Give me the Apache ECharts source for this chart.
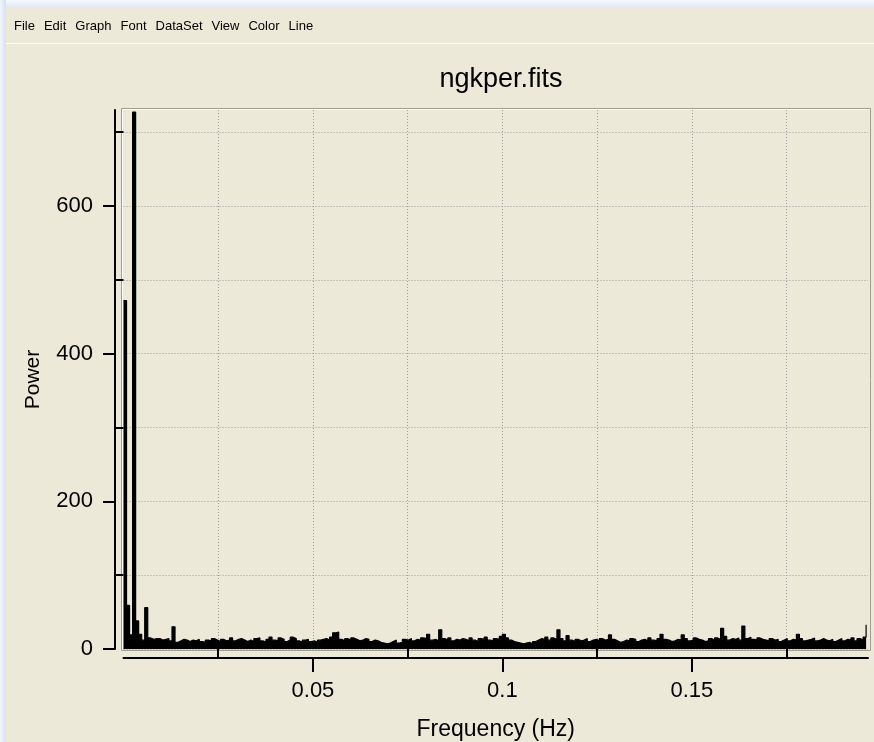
<!DOCTYPE html>
<html>
<head>
<meta charset="utf-8">
<script src="https://cdn.jsdelivr.net/npm/echarts@6/dist/echarts.min.js"></script>
<style>
html,body{margin:0;padding:0;background:#ECE9D8;overflow:hidden;}
#wrap{position:relative;width:874px;height:742px;}
#c{position:absolute;left:0;top:0;width:874px;height:742px;}
#topband{position:absolute;left:0;top:0;width:874px;height:8px;background:linear-gradient(#f6f8fc,#dfe7f5);}
#leftband{position:absolute;left:0;top:0;width:6px;height:742px;background:linear-gradient(90deg,#f3f6fb,#d5e0f3);}
#menu{position:absolute;left:6px;top:9px;width:868px;height:34px;border-bottom:1px solid #ffffff;
  font-family:"Liberation Sans",Arial,sans-serif;font-size:13px;color:#000;line-height:34px;white-space:nowrap;}
#menu span{display:inline-block;margin-left:8px;margin-right:1px;}
</style>
</head>
<body>
<div id="wrap">
<div id="c"></div>
<div id="topband"></div>
<div id="leftband"></div>
<div id="menu"></div>
</div>
<script>
// ---------------- data ----------------
const menuItems = ['File', 'Edit', 'Graph', 'Font', 'DataSet', 'View', 'Color', 'Line'];
const chartTitle = 'ngkper.fits';
const xName = 'Frequency (Hz)';
const yName = 'Power';

// frequency grid of the periodogram (Hz): bin i starts at F0 + i*DF
const F0 = 0;
const DF = 0.0008;
const XMAX = 0.1965;

// power per frequency bin
const power = [
  472, 59, 19, 727, 38, 20, 12, 56, 15, 13,
  14, 14, 12, 13, 14, 11, 30, 9, 11, 13,
  12, 10, 12, 11, 13, 10, 9, 12, 11, 14,
  12, 10, 13, 11, 12, 15, 11, 13, 14, 12,
  10, 12, 10, 14, 15, 11, 9, 13, 16, 12,
  11, 15, 13, 10, 12, 16, 14, 11, 9, 12,
  13, 10, 11, 9, 12, 13, 14, 12, 16, 22,
  23, 13, 11, 14, 12, 15, 13, 11, 12, 14,
  13, 10, 12, 11, 9, 8, 7, 8, 10, 12,
  8, 9, 13, 12, 14, 11, 13, 12, 15, 14,
  20, 12, 13, 11, 26, 14, 12, 15, 11, 13,
  12, 14, 13, 11, 15, 12, 10, 14, 13, 16,
  12, 11, 14, 13, 17, 20, 15, 12, 10, 9,
  8, 7, 8, 9, 7, 10, 12, 14, 13, 16,
  12, 15, 13, 26, 14, 11, 18, 12, 10, 13,
  11, 12, 14, 10, 12, 13, 11, 14, 12, 13,
  19, 13, 11, 9, 10, 12, 11, 14, 13, 10,
  12, 13, 11, 15, 12, 11, 14, 20, 13, 12,
  10, 11, 13, 12, 19, 14, 11, 12, 15, 13,
  12, 10, 11, 14, 12, 15, 13, 28, 17, 12,
  14, 13, 15, 12, 31, 14, 16, 13, 12, 15,
  13, 12, 11, 14, 12, 13, 10, 12, 14, 11,
  13, 12, 20, 14, 11, 12, 13, 15, 11, 12,
  14, 12, 11, 13, 10, 12, 14, 11, 13, 12,
  15, 11, 14, 12, 16, 33
];

const xMajor = [0.05, 0.1, 0.15];
const xTickLabels = ['0.05', '0.1', '0.15'];
const xMinor = [0.025, 0.075, 0.125, 0.175];
const yMajor = [0, 200, 400, 600];
const yTickLabels = ['0', '200', '400', '600'];
const yMinor = [100, 300, 500, 700];
const YMAX = 730;

// ---------------- menu ----------------
document.getElementById('menu').innerHTML = menuItems.map(m => '<span>' + m + '</span>').join('');

// ---------------- chart ----------------
const FONT = '"Liberation Sans", Arial, sans-serif';
const dotted = { show: true, lineStyle: { color: '#9C9C9C', width: 1, type: [1, 2] } };
const seriesData = power.map((p, i) => [+(F0 + i * DF).toFixed(5), p]);

const chart = echarts.init(document.getElementById('c'), null, { renderer: 'canvas' });
const GL = 123.5, GT = 110, GR = 6, GB = 93;

chart.setOption({
  backgroundColor: 'transparent',
  animation: false,
  title: {
    text: chartTitle, left: 496, top: 61, textAlign: 'center',
    textStyle: { fontFamily: FONT, fontSize: 27, fontWeight: 'normal', color: '#000' }
  },
  grid: { left: GL, right: GR, top: GT, bottom: GB, containLabel: false, outerBoundsMode: 'none' },
  graphic: [
    { type: 'rect', silent: true, z: -10,
      shape: { x: 121.5, y: 108.5, width: 749, height: 542 },
      style: { fill: '#ECE9D8', stroke: '#A19E8E', lineWidth: 1 } },
    { type: 'polyline', silent: true, z: -9,
      shape: { points: [[122.5, 650], [122.5, 109.5], [870, 109.5]] },
      style: { stroke: '#ffffff', lineWidth: 1, fill: null } }
  ],
  xAxis: [
    {
      type: 'value', min: 0, max: XMAX, position: 'bottom', offset: 9,
      axisLine: { show: true, onZero: false, lineStyle: { color: '#000', width: 2 } },
      axisTick: { show: true, customValues: xMajor, length: 14, lineStyle: { color: '#000', width: 2 } },
      axisLabel: {
        customValues: xMajor, margin: 22, fontFamily: FONT, fontSize: 22, color: '#000',
        formatter: v => { const i = xMajor.findIndex(t => Math.abs(t - v) < 1e-9); return i >= 0 ? xTickLabels[i] : ''; }
      },
      splitLine: dotted,
      name: xName, nameLocation: 'middle', nameGap: 60, nameMoveOverlap: false,
      nameTextStyle: { fontFamily: FONT, fontSize: 23, color: '#000' }
    },
    {
      type: 'value', min: 0, max: XMAX, position: 'bottom', offset: 9,
      axisLine: { show: false },
      axisTick: { show: true, customValues: xMinor, length: 8, lineStyle: { color: '#000', width: 2 } },
      axisLabel: { show: false },
      splitLine: dotted
    }
  ],
  yAxis: [
    {
      type: 'value', min: 0, max: YMAX, position: 'left', offset: 8.5,
      axisLine: { show: true, onZero: false, lineStyle: { color: '#000', width: 2 } },
      axisTick: { show: true, customValues: yMajor, length: 12, lineStyle: { color: '#000', width: 2 } },
      axisLabel: {
        customValues: yMajor, margin: 22, fontFamily: FONT, fontSize: 22, color: '#000',
        formatter: v => { const i = yMajor.findIndex(t => Math.abs(t - v) < 1e-9); return i >= 0 ? yTickLabels[i] : ''; }
      },
      splitLine: dotted,
      name: yName, nameLocation: 'middle', nameGap: 71, nameRotate: 90, nameMoveOverlap: false,
      nameTextStyle: { fontFamily: FONT, fontSize: 21, color: '#000' }
    },
    {
      type: 'value', min: 0, max: YMAX, position: 'left', offset: 8.5,
      axisLine: { show: false },
      axisTick: { show: true, customValues: yMinor, length: 8, lineStyle: { color: '#000', width: 2 } },
      axisLabel: { show: false },
      splitLine: dotted
    }
  ],
  series: [{
    type: 'line', xAxisIndex: 0, yAxisIndex: 0, step: 'end',
    data: seriesData, symbol: 'none', silent: true, clip: true,
    lineStyle: { color: '#000', width: 1.2 },
    areaStyle: { color: '#000', opacity: 1, origin: 'start' }
  }]
});
</script>
</body>
</html>
